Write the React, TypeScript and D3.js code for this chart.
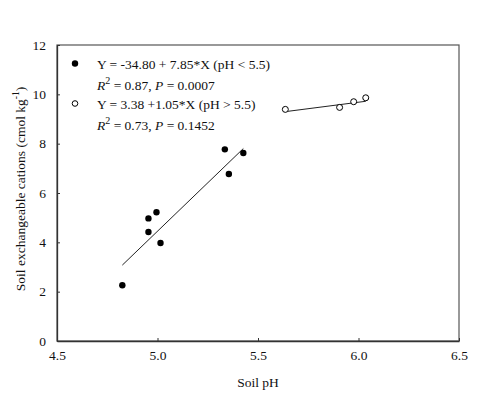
import React, { useRef, useEffect } from 'react';
import * as d3 from 'd3';

// data
const lowPH = [4.825, 4.955, 4.955, 4.995, 5.015, 5.335, 5.355, 5.427];
const lowCations = [2.26, 4.97, 4.42, 5.22, 3.97, 7.77, 6.77, 7.62];
const highPH = [5.636, 5.906, 5.976, 6.036];
const highCations = [9.39, 9.47, 9.7, 9.86];
// regression coefficients [intercept, slope]
const lowFit = [-34.8, 7.85];
const highFit = [3.38, 1.05];
const xTicks = [4.5, 5.0, 5.5, 6.0, 6.5];
const yTicks = [0, 2, 4, 6, 8, 10, 12];

const width = 500;
const height = 395;
const margins = { left: 57, right: 41, top: 45, bottom: 54 };
const FONT = '"Liberation Serif", "Times New Roman", serif';

const App: React.FC = () => {
  const d3Container = useRef(null);

  useEffect(() => {
    if (!d3Container.current) return;
    const svg = d3.select(d3Container.current);
    svg.selectAll('*').remove();

    const graphWidth = width - margins.left - margins.right;
    const graphHeight = height - margins.top - margins.bottom;

    const x = d3.scaleLinear().domain([4.5, 6.5]).range([0, graphWidth]);
    const y = d3.scaleLinear().domain([0, 12]).range([graphHeight, 0]);

    const g = svg.append('g').attr('transform', `translate(${margins.left},${margins.top})`);

    // frame
    g.append('rect')
      .attr('width', graphWidth)
      .attr('height', graphHeight)
      .attr('fill', 'none')
      .attr('stroke', '#555')
      .attr('stroke-width', 1.2);

    // x axis, ticks pointing inward
    const xAxis = g
      .append('g')
      .attr('transform', `translate(0,${graphHeight})`)
      .call(d3.axisBottom(x).tickValues(xTicks).tickFormat(d3.format('.1f')).tickSizeInner(-3).tickSizeOuter(0).tickPadding(9));
    xAxis.select('.domain').attr('stroke', '#333').attr('stroke-width', 1.3);
    xAxis.selectAll('line').attr('stroke', '#333');
    xAxis.selectAll('text').attr('font-family', FONT).attr('font-size', 13.5).attr('fill', '#111');

    const yAxis = g
      .append('g')
      .call(d3.axisLeft(y).tickValues(yTicks).tickFormat(d3.format('d')).tickSizeInner(-3).tickSizeOuter(0).tickPadding(11));
    yAxis.select('.domain').attr('stroke', '#333').attr('stroke-width', 1.3);
    yAxis.selectAll('line').attr('stroke', '#333');
    yAxis.selectAll('text').attr('font-family', FONT).attr('font-size', 13.5).attr('fill', '#111');

    // regression lines
    const fitLine = (xs: number[], coef: number[]) => {
      const lo = d3.min(xs) as number;
      const hi = d3.max(xs) as number;
      g.append('line')
        .attr('x1', x(lo))
        .attr('y1', y(coef[0] + coef[1] * lo))
        .attr('x2', x(hi))
        .attr('y2', y(coef[0] + coef[1] * hi))
        .attr('stroke', '#222')
        .attr('stroke-width', 1);
    };
    fitLine(lowPH, lowFit);
    fitLine(highPH, highFit);

    g.selectAll('.low')
      .data(lowPH)
      .join('circle')
      .attr('class', 'low')
      .attr('cx', (d: number) => x(d))
      .attr('cy', (_d: number, i: number) => y(lowCations[i]))
      .attr('r', 3.2)
      .attr('fill', '#000');

    g.selectAll('.high')
      .data(highPH)
      .join('circle')
      .attr('class', 'high')
      .attr('cx', (d: number) => x(d))
      .attr('cy', (_d: number, i: number) => y(highCations[i]))
      .attr('r', 3)
      .attr('fill', '#fff')
      .attr('stroke', '#000')
      .attr('stroke-width', 1);

    // legend
    const leg = svg.append('g').attr('font-family', FONT).attr('font-size', 13.5).attr('fill', '#111');
    leg.append('circle').attr('cx', 75).attr('cy', 63.5).attr('r', 3.2).attr('fill', '#000');
    leg.append('circle').attr('cx', 75).attr('cy', 103.5).attr('r', 2.8).attr('fill', '#fff').attr('stroke', '#000');

    leg.append('text').attr('x', 97).attr('y', 68.5).text('Y = -34.80 + 7.85*X (pH < 5.5)');
    leg.append('text').attr('x', 97).attr('y', 108.5).text('Y = 3.38 +1.05*X (pH > 5.5)');

    const stats = [
      { yy: 90, r2: '0.87', p: '0.0007' },
      { yy: 130, r2: '0.73', p: '0.1452' },
    ];
    stats.forEach((s) => {
      const t = leg.append('text').attr('x', 97).attr('y', s.yy);
      t.append('tspan').attr('font-style', 'italic').text('R');
      t.append('tspan').attr('font-size', 10).attr('dy', -6).text('2');
      t.append('tspan').attr('dy', 6).text(` = ${s.r2}, `);
      t.append('tspan').attr('font-style', 'italic').text('P');
      t.append('tspan').text(` = ${s.p}`);
    });

    // axis titles
    svg.append('text')
      .attr('x', margins.left + x(5.5))
      .attr('y', 387)
      .attr('text-anchor', 'middle')
      .attr('font-family', FONT)
      .attr('font-size', 13.5)
      .attr('fill', '#111')
      .text('Soil pH');

    const yt = svg.append('text')
      .attr('transform', `translate(25,189) rotate(-90)`)
      .attr('text-anchor', 'middle')
      .attr('font-family', FONT)
      .attr('font-size', 13.5)
      .attr('fill', '#111');
    yt.append('tspan').text('Soil exchangeable cations (cmol kg');
    yt.append('tspan').attr('font-size', 9.5).attr('dy', -6).text('-1');
    yt.append('tspan').attr('dy', 6).text(')');
  }, []);

  return (
    <div style={{ position: 'absolute', left: 0, top: 0 }}>
      <svg width={width} height={height} ref={d3Container} style={{ display: 'block', background: '#fff' }} />
    </div>
  );
};

export default App;
